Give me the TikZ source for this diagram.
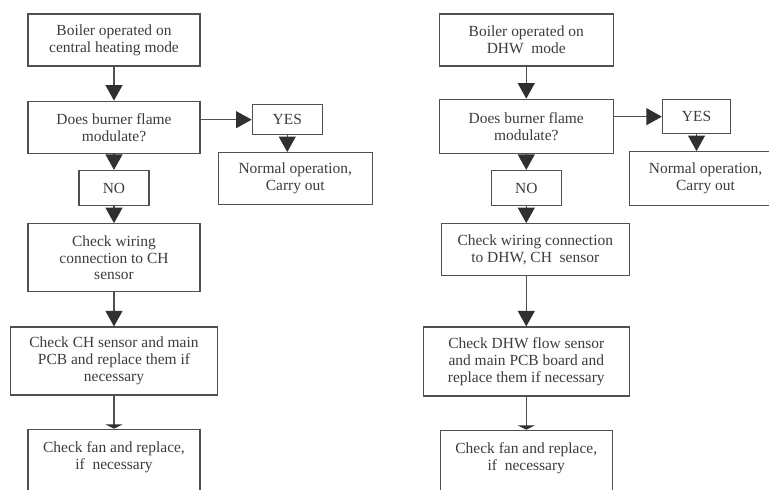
\documentclass[tikz,border=0pt]{standalone}
\usepackage{fontspec}
\setmainfont{Liberation Serif}
\usetikzlibrary{arrows.meta, positioning}
\definecolor{ink}{HTML}{3C3C3C}
\definecolor{lineink}{HTML}{505050}
\definecolor{tipink}{HTML}{303030}

\begin{document}
\begin{tikzpicture}[
    flowbox/.style={draw=lineink, line width=0.9pt, text=ink, align=center,
      font=\fontsize{11pt}{12pt}\selectfont, inner sep=2pt},
    fanbox/.style={inner ysep=0.3cm},
    arr/.style={draw=lineink, line width=0.9pt,
      -{Triangle[width=12pt,length=11pt,color=tipink]}},
    arrflat/.style={draw=lineink, line width=0.9pt,
      -{Triangle[width=12pt,length=3pt,color=tipink]}}]
  \useasboundingbox (0,0) rectangle (19.225,12.225);
  \clip (0,0) rectangle (19.225,12.225);
  % Central heating mode
  \node[flowbox, minimum width=4.3cm, minimum height=1.3cm] (ch1) at (2.85,11.225)
       {Boiler operated on\\central heating mode};
  \node[flowbox, minimum width=4.3cm, minimum height=1.3cm, below=0.85cm of ch1] (ch2)
       {Does burner flame\\modulate?};
  \node[flowbox, minimum width=1.75cm, minimum height=0.75cm,
        right=1.275cm of ch2, yshift=0.19cm] (chyes) {YES};
  \node[flowbox, minimum width=3.85cm, minimum height=1.3cm,
        below=0.42cm of chyes, xshift=0.2cm] (chok) {Normal operation,\\Carry out};
  \node[flowbox, minimum width=1.75cm, minimum height=0.875cm, below=0.4cm of ch2] (chno) {NO};
  \node[flowbox, minimum width=4.3cm, minimum height=1.7cm, below=0.425cm of chno] (ch3)
       {Check wiring\\connection to CH\\sensor};
  \node[flowbox, minimum width=5.175cm, minimum height=1.7cm, below=0.85cm of ch3] (ch4)
       {Check CH sensor and main\\PCB and replace them if\\necessary};
  \node[flowbox, fanbox, minimum width=4.3cm, below=0.825cm of ch4] (ch5)
       {Check fan and replace,\\if\ \ necessary\\[1.2cm]\mbox{}};
  % DHW mode
  \node[flowbox, minimum width=4.35cm, minimum height=1.3cm, right=5.95cm of ch1] (dhw1)
       {Boiler operated on\\DHW\ \ mode};
  \node[flowbox, minimum width=4.35cm, minimum height=1.35cm, below=0.8cm of dhw1] (dhw2)
       {Does burner flame\\modulate?};
  \node[flowbox, minimum width=1.7cm, minimum height=0.85cm,
        right=1.2cm of dhw2, yshift=0.24cm] (dhwyes) {YES};
  \node[flowbox, minimum width=3.8cm, minimum height=1.35cm,
        below=0.42cm of dhwyes, xshift=0.225cm] (dhwok) {Normal operation,\\Carry out};
  \node[flowbox, minimum width=1.75cm, minimum height=0.875cm, below=0.4cm of dhw2] (dhwno) {NO};
  \node[flowbox, minimum width=4.7cm, minimum height=1.3cm,
        below=0.425cm of dhwno, xshift=0.225cm] (dhw3)
       {Check wiring connection\\to DHW, CH\ \ sensor};
  \node[flowbox, minimum width=5.15cm, minimum height=1.725cm,
        below=1.25cm of dhw3, xshift=-0.225cm] (dhw4)
       {Check DHW flow sensor\\and main PCB board and\\replace them if necessary};
  \node[flowbox, fanbox, minimum width=4.3cm, below=0.825cm of dhw4] (dhw5)
       {Check fan and replace,\\if\ \ necessary\\[1.2cm]\mbox{}};
  % Arrows
  \draw[arr] (ch1) -- (ch2);
  \draw[arr] (ch2.east |- chyes) -- (chyes);
  \draw[arr] (chyes) -- (chyes |- chok.north);
  \draw[arr] (ch2) -- (chno);
  \draw[arr] (chno) -- (ch3);
  \draw[arr] (ch3) -- (ch4);
  \draw[arrflat] (ch4) -- (ch5);
  \draw[arr] (dhw1) -- (dhw2);
  \draw[arr] (dhw2.east |- dhwyes) -- (dhwyes);
  \draw[arr] (dhwyes) -- (dhwyes |- dhwok.north);
  \draw[arr] (dhw2) -- (dhwno);
  \draw[arr] (dhwno) -- (dhwno |- dhw3.north);
  \draw[arr] (dhw4 |- dhw3.south) -- (dhw4);
  \draw[arrflat] (dhw4) -- (dhw5);
\end{tikzpicture}
\end{document}
